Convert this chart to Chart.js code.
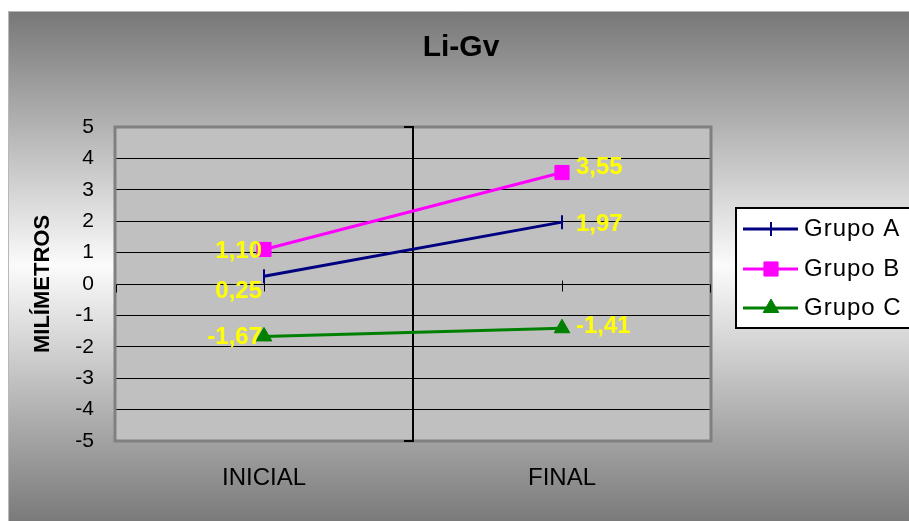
<!DOCTYPE html>
<html>
<head>
<meta charset="utf-8">
<script src="https://cdn.jsdelivr.net/npm/chart.js@4.4.1/dist/chart.umd.min.js"></script>
<style>
  html, body { margin: 0; padding: 0; background: #fff; }
  canvas { display: block; }
</style>
</head>
<body>
<canvas id="chart" width="909" height="521"></canvas>
<script>
// Values (mm) per group at the start and end of treatment
const categories = ['INICIAL', 'FINAL'];
const seriesNames = ['Grupo A', 'Grupo B', 'Grupo C'];
const grupoA = [0.25, 1.97];
const grupoB = [1.10, 3.55];
const grupoC = [-1.67, -1.41];
const yMin = -5;
const yMax = 5;

const FONT = "'Liberation Sans', Arial, Helvetica, sans-serif";
const fmt = v => v.toFixed(2).replace('.', ',');

// Fallback point drawer in case helpers are not exposed
function drawMarker(ctx, opts, x, y) {
  if (Chart.helpers && Chart.helpers.drawPoint) {
    Chart.helpers.drawPoint(ctx, opts, x, y);
    return;
  }
  const r = opts.radius;
  ctx.beginPath();
  if (opts.pointStyle === 'rect') {
    const s = r * Math.SQRT1_2;
    ctx.rect(x - s, y - s, 2 * s, 2 * s);
    ctx.fill(); ctx.stroke();
  } else if (opts.pointStyle === 'triangle') {
    ctx.moveTo(x, y - r);
    ctx.lineTo(x + r * 0.866, y + r / 2);
    ctx.lineTo(x - r * 0.866, y + r / 2);
    ctx.closePath(); ctx.fill(); ctx.stroke();
  } else {
    ctx.moveTo(x, y - r); ctx.lineTo(x, y + r); ctx.stroke();
  }
}

const backdrop = {
  id: 'backdrop',
  beforeDraw(chart) {
    const { ctx, width, height, chartArea: a } = chart;
    ctx.save();
    ctx.fillStyle = '#fff';
    ctx.fillRect(0, 0, width, height);
    const g = ctx.createLinearGradient(0, 11, 0, height);
    g.addColorStop(0, '#777777');
    g.addColorStop(0.5, '#fbfbfb');
    g.addColorStop(1, '#7a7a7a');
    ctx.fillStyle = g;
    ctx.fillRect(8, 11, width - 8, height - 11);
    ctx.strokeStyle = '#b8b8b8';
    ctx.lineWidth = 1;
    ctx.beginPath();
    ctx.moveTo(8.5, height); ctx.lineTo(8.5, 11.5); ctx.lineTo(width, 11.5);
    ctx.stroke();
    ctx.fillStyle = '#c0c0c0';
    ctx.fillRect(a.left, a.top, a.right - a.left, a.bottom - a.top);
    ctx.restore();
  },
  beforeDatasetsDraw(chart) {
    const { ctx, chartArea: a, scales } = chart;
    const xs = scales.x, ys = scales.y;
    ctx.save();
    // plot frame
    ctx.strokeStyle = '#808080';
    ctx.lineWidth = 3;
    ctx.strokeRect(a.left, a.top, a.right - a.left, a.bottom - a.top);
    // value axis between the two categories
    const axisX = Math.round((xs.getPixelForValue(0) + xs.getPixelForValue(1)) / 2);
    ctx.strokeStyle = '#000';
    ctx.lineWidth = 2;
    ctx.beginPath();
    ctx.moveTo(axisX, a.top);
    ctx.lineTo(axisX, a.bottom);
    [yMin, yMax].forEach(v => {
      const py = Math.round(ys.getPixelForValue(v));
      ctx.moveTo(axisX - 9, py);
      ctx.lineTo(axisX + 1, py);
    });
    ctx.stroke();
    // category axis ticks on the zero line
    const y0 = Math.round(ys.getPixelForValue(0)) + 0.5;
    ctx.lineWidth = 1;
    ctx.beginPath();
    [a.left + 1, a.right - 1].forEach(px => {
      ctx.moveTo(Math.round(px) + 0.5, y0);
      ctx.lineTo(Math.round(px) + 0.5, y0 + 8);
    });
    categories.forEach((c, i) => {
      const px = Math.round(xs.getPixelForValue(i)) + 0.5;
      ctx.moveTo(px, y0 - 4);
      ctx.lineTo(px, y0 + 7);
    });
    ctx.stroke();
    ctx.restore();
  }
};

const valueLabels = {
  id: 'valueLabels',
  afterDatasetsDraw(chart) {
    const { ctx } = chart;
    ctx.save();
    ctx.font = 'bold 24px ' + FONT;
    ctx.fillStyle = '#ffff00';
    ctx.textBaseline = 'middle';
    chart.data.datasets.forEach((ds, di) => {
      const meta = chart.getDatasetMeta(di);
      meta.data.forEach((pt, i) => {
        const shift = ds.labelShift ? ds.labelShift[i] : 0;
        const text = fmt(ds.data[i]);
        if (i === 0) {
          ctx.textAlign = 'right';
          ctx.fillText(text, pt.x - 2, pt.y + shift);
        } else {
          ctx.textAlign = 'left';
          ctx.fillText(text, pt.x + 14, pt.y + shift);
        }
      });
    });
    ctx.restore();
  }
};

const boxLegend = {
  id: 'boxLegend',
  afterDraw(chart) {
    const { ctx } = chart;
    const left = 736, top = 208, bottom = 328;
    ctx.save();
    ctx.fillStyle = '#fff';
    ctx.fillRect(left, top, 200, bottom - top);
    ctx.strokeStyle = '#000';
    ctx.lineWidth = 2;
    ctx.strokeRect(left, top, 200, bottom - top);
    const rows = [229, 269, 308];
    chart.data.datasets.forEach((ds, i) => {
      const y = rows[i];
      ctx.strokeStyle = ds.borderColor;
      ctx.lineWidth = 3;
      ctx.beginPath();
      ctx.moveTo(743, y);
      ctx.lineTo(798, y);
      ctx.stroke();
      ctx.fillStyle = ds.pointBackgroundColor;
      ctx.strokeStyle = ds.pointBorderColor;
      ctx.lineWidth = ds.pointBorderWidth;
      drawMarker(ctx, {
        pointStyle: ds.pointStyle,
        radius: ds.pointRadius,
        rotation: ds.pointRotation || 0,
        borderWidth: ds.pointBorderWidth
      }, 771, y);
      ctx.fillStyle = '#000';
      ctx.font = '24px ' + FONT;
      if ('letterSpacing' in ctx) ctx.letterSpacing = '1px';
      ctx.textAlign = 'left';
      ctx.textBaseline = 'middle';
      ctx.fillText(ds.label, 804, y);
      if ('letterSpacing' in ctx) ctx.letterSpacing = '0px';
    });
    ctx.restore();
  }
};

new Chart(document.getElementById('chart'), {
  type: 'line',
  data: {
    labels: categories,
    datasets: [
      {
        label: seriesNames[0],
        data: grupoA,
        borderColor: '#000080',
        borderWidth: 3,
        pointStyle: 'line',
        pointRotation: 90,
        pointRadius: 7,
        pointBorderWidth: 2,
        pointBackgroundColor: '#000080',
        pointBorderColor: '#000080',
        labelShift: [15, 2]
      },
      {
        label: seriesNames[1],
        data: grupoB,
        borderColor: '#ff00ff',
        borderWidth: 3,
        pointStyle: 'rect',
        pointRadius: 10,
        pointBorderWidth: 1,
        pointBackgroundColor: '#ff00ff',
        pointBorderColor: '#ff00ff',
        labelShift: [2, -5]
      },
      {
        label: seriesNames[2],
        data: grupoC,
        borderColor: '#008000',
        borderWidth: 3,
        pointStyle: 'triangle',
        pointRadius: 9,
        pointBorderWidth: 1,
        pointBackgroundColor: '#008000',
        pointBorderColor: '#008000',
        labelShift: [1, -2]
      }
    ]
  },
  options: {
    responsive: false,
    animation: false,
    events: [],
    layout: { padding: { left: 13, right: 0, top: 0, bottom: 0 } },
    plugins: {
      legend: { display: false },
      tooltip: { enabled: false },
      title: {
        display: true,
        text: 'Li-Gv',
        color: '#000',
        font: { family: FONT, size: 30, weight: 'bold', lineHeight: 1.2 },
        padding: { top: 30, bottom: 61 }
      }
    },
    scales: {
      x: {
        type: 'category',
        offset: true,
        grid: { display: false, drawTicks: false },
        border: { display: false },
        ticks: { color: '#000', padding: 23, font: { family: FONT, size: 24 } },
        afterFit(scale) { scale.height = 80; }
      },
      y: {
        min: yMin,
        max: yMax,
        grid: {
          drawTicks: false,
          lineWidth: 1,
          color: c => (c.tick && (c.tick.value === yMin || c.tick.value === yMax)) ? 'rgba(0,0,0,0)' : '#000'
        },
        border: { display: false },
        ticks: {
          stepSize: 1,
          color: '#000',
          padding: 21,
          font: { family: FONT, size: 21 },
          callback: v => String(v)
        },
        title: {
          display: true,
          text: 'MILÍMETROS',
          color: '#000',
          font: { family: FONT, size: 22, weight: 'bold', lineHeight: 1.2 },
          padding: { top: 17, bottom: 0 }
        },
        afterFit(scale) { scale.width = 102; }
      },
      // empty right-hand strip that holds the legend box
      side: {
        type: 'linear',
        position: 'right',
        display: true,
        grid: { display: false, drawTicks: false },
        border: { display: false },
        ticks: { display: false },
        afterFit(scale) { scale.width = 198; }
      }
    }
  },
  plugins: [backdrop, valueLabels, boxLegend]
});
</script>
</body>
</html>
